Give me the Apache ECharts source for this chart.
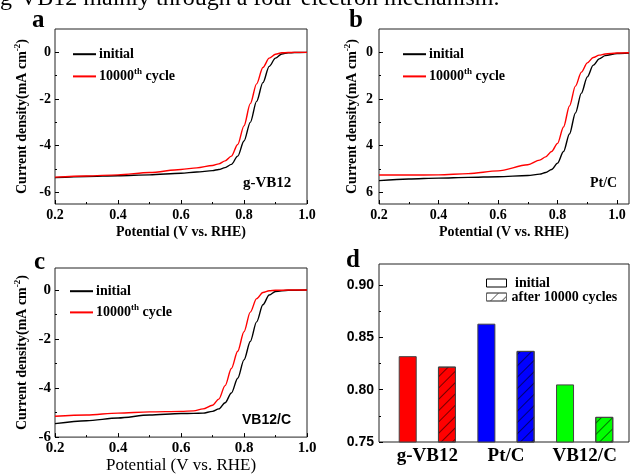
<!DOCTYPE html>
<html>
<head>
<meta charset="utf-8">
<script src="https://cdn.jsdelivr.net/npm/echarts@6/dist/echarts.min.js"></script>
<style>
html, body { margin: 0; padding: 0; background: #fff; }
#main { width: 630px; height: 475px; }
</style>
</head>
<body>
<div id="main"></div>
<script>
// panel a: g-VB12
const potA = [0.2, 0.3, 0.4, 0.5, 0.6, 0.65, 0.7, 0.72, 0.74, 0.76, 0.78, 0.8, 0.82, 0.84, 0.86, 0.88, 0.9, 0.92, 0.94, 0.96, 1.0];
const aInitial = [-5.37, -5.32, -5.29, -5.25, -5.18, -5.13, -5.07, -5.02, -4.94, -4.80, -4.45, -3.80, -3.00, -2.10, -1.30, -0.60, -0.25, -0.07, -0.02, -0.01, 0];
const aCycled = [-5.35, -5.30, -5.25, -5.15, -5.02, -4.95, -4.85, -4.78, -4.65, -4.45, -3.95, -3.15, -2.20, -1.35, -0.65, -0.25, -0.08, -0.02, -0.01, 0, 0];

// panel b: Pt/C (axis inverted)
const potB = [0.2, 0.3, 0.4, 0.5, 0.6, 0.7, 0.74, 0.76, 0.78, 0.8, 0.82, 0.84, 0.86, 0.88, 0.9, 0.92, 0.94, 0.96, 1.0, 1.04];
const bInitial = [5.50, 5.43, 5.39, 5.36, 5.33, 5.28, 5.22, 5.15, 5.02, 4.75, 4.25, 3.50, 2.60, 1.75, 1.05, 0.55, 0.28, 0.14, 0.05, 0.03];
const bCycled = [5.26, 5.26, 5.25, 5.20, 5.08, 4.82, 4.62, 4.48, 4.25, 3.90, 3.20, 2.30, 1.45, 0.85, 0.45, 0.22, 0.12, 0.07, 0.03, 0.02];

// panel c: VB12/C
const potC = [0.2, 0.3, 0.4, 0.5, 0.6, 0.64, 0.67, 0.7, 0.72, 0.74, 0.76, 0.78, 0.8, 0.82, 0.84, 0.86, 0.88, 0.9, 0.94, 1.0];
const cInitial = [-5.45, -5.33, -5.22, -5.10, -5.04, -5.03, -5.02, -4.95, -4.85, -4.60, -4.20, -3.60, -2.85, -2.10, -1.30, -0.60, -0.20, -0.06, -0.01, 0];
const cCycled = [-5.15, -5.10, -5.02, -4.97, -4.95, -4.93, -4.85, -4.70, -4.45, -3.90, -3.20, -2.50, -1.70, -0.90, -0.35, -0.10, -0.03, -0.01, 0, 0];

// panel d: half-wave potentials
const groups = ['g-VB12', 'Pt/C', 'VB12/C'];
const halfInitial = [0.832, 0.863, 0.805];
const halfCycled = [0.822, 0.837, 0.774];
const barColors = ['#ff0000', '#0000ff', '#00ff00'];

// tick labels
const potTicks = [0.2, 0.4, 0.6, 0.8, 1.0];
const aTicks = [-6, -4, -2, 0];
const aMinor = [-5, -3, -1];
const bTicks = [0, 2, 4, 6];
const bMinor = [1, 3, 5];
const dTicks = [0.75, 0.8, 0.85, 0.9];
const dMinor = [0.775, 0.825, 0.875];

const serif = 'Liberation Serif';
const sans = 'Liberation Sans';
const pairs = (xs, ys) => xs.map((x, i) => [x, ys[i]]);

const supRich = {
    t: { fontFamily: serif, fontWeight: 'bold', fontSize: 14, color: '#000', lineHeight: 18 },
    s: { fontFamily: serif, fontWeight: 'bold', fontSize: 9, color: '#000', lineHeight: 9, verticalAlign: 'top' }
};
const yName = '{t|Current density(mA cm}{s|-2}{t|)}';
const yNameStyle = { rich: supRich };

const potAxis = (grid, max, fontSize, nameStyle, nameGap) => ({
    type: 'value', gridIndex: grid, min: 0.2, max: max, interval: 0.2,
    name: 'Potential (V vs. RHE)', nameLocation: 'middle', nameGap: nameGap,
    nameTextStyle: nameStyle,
    axisLine: { show: false, onZero: false },
    axisTick: { inside: true, length: 4, customValues: potTicks, lineStyle: { color: '#000' } },
    minorTick: { show: true, splitNumber: 2, length: 2, lineStyle: { color: '#000' } },
    splitLine: { show: false },
    axisLabel: {
        customValues: potTicks, margin: 4, color: '#000',
        fontFamily: serif, fontWeight: 'bold', fontSize: fontSize,
        formatter: v => v.toFixed(1)
    }
});

const mainY = (grid, min, max, ticks, opts) => Object.assign({
    type: 'value', gridIndex: grid, min: min, max: max, position: 'left',
    axisLine: { show: false, onZero: false },
    splitLine: { show: false },
    axisTick: { inside: true, length: 4, customValues: ticks, lineStyle: { color: '#000' } },
    axisLabel: { customValues: ticks, margin: 4, color: '#000', fontFamily: serif, fontWeight: 'bold', fontSize: 14 }
}, opts);

const minorY = (grid, min, max, ticks, inverse) => ({
    type: 'value', gridIndex: grid, min: min, max: max, inverse: !!inverse, position: 'left',
    axisLine: { show: false, onZero: false }, splitLine: { show: false }, axisLabel: { show: false },
    axisTick: { inside: true, length: 2, customValues: ticks, lineStyle: { color: '#000' } }
});

const lineSeries = (name, color, xi, yi, data) => ({
    name: name, type: 'line', xAxisIndex: xi, yAxisIndex: yi,
    data: data, symbol: 'none', smooth: 0.3, smoothMonotone: 'x',
    lineStyle: { color: color, width: 1.4 }, itemStyle: { color: color },
    silent: true
});

const curveLegend = (left, top) => ({
    left: left, top: top, orient: 'vertical', itemWidth: 23, itemHeight: 18, itemGap: 5,
    selectedMode: false, data: ['initial', '10000th cycle'],
    itemStyle: { color: 'transparent', borderColor: 'transparent', borderWidth: 0 },
    formatter: n => n === 'initial' ? '{t|initial}' : '{t|10000}{s|th}{t| cycle}',
    textStyle: { rich: supRich, padding: [0, 0, 0, -2] }
});

const hatch = { symbol: 'rect', symbolSize: 1, dashArrayX: [1, 0], dashArrayY: [1, 7], rotation: -Math.PI / 4, color: 'rgba(0,0,0,0.55)' };
const dNames = { 'd-initial': ' initial', 'd-after': 'after 10000 cycles' };

const frame = { show: true, borderColor: '#222', borderWidth: 1, backgroundColor: 'transparent' };

const chart = echarts.init(document.getElementById('main'));
const option = {
    animation: false,
    backgroundColor: '#fff',
    grid: [
        Object.assign({ left: 55, top: 29, width: 252, height: 175 }, frame),
        Object.assign({ left: 379, top: 29, right: 1, height: 175 }, frame),
        Object.assign({ left: 55, top: 268, width: 252, height: 172 }, frame),
        Object.assign({ left: 379, top: 264, right: 1, height: 178 }, frame),
        { left: 388, top: 264, width: 236, height: 178 }
    ],
    xAxis: [
        potAxis(0, 1.0, 14, { fontFamily: serif, fontWeight: 'bold', fontSize: 14, color: '#000' }, 21),
        potAxis(1, 1.04, 14, { fontFamily: serif, fontWeight: 'bold', fontSize: 14, color: '#000' }, 21),
        potAxis(2, 1.0, 15, { fontFamily: serif, fontWeight: 'normal', fontSize: 17, color: '#000' }, 18),
        { type: 'value', gridIndex: 3, show: false, min: 0, max: 1 },
        {
            type: 'category', gridIndex: 4, data: groups,
            axisLine: { show: false, onZero: false }, axisTick: { show: false },
            axisLabel: { interval: 0, margin: 5, color: '#000', fontFamily: serif, fontWeight: 'bold', fontSize: 19 }
        }
    ],
    yAxis: [
        mainY(0, -6.5, 1, aTicks, { name: yName, nameLocation: 'middle', nameGap: 24, nameTextStyle: yNameStyle }),
        minorY(0, -6.5, 1, aMinor),
        mainY(1, -1, 6.5, bTicks, { inverse: true, name: yName, nameLocation: 'middle', nameGap: 18, nameTextStyle: yNameStyle,
            axisLabel: { customValues: bTicks, margin: 6, color: '#000', fontFamily: serif, fontWeight: 'bold', fontSize: 14 } }),
        minorY(1, -1, 6.5, bMinor, true),
        mainY(2, -6, 0.9, aTicks, { name: yName, nameLocation: 'middle', nameGap: 24, nameTextStyle: yNameStyle,
            axisLabel: { customValues: aTicks, margin: 4, color: '#000', fontFamily: serif, fontWeight: 'bold', fontSize: 15 } }),
        minorY(2, -6, 0.9, aMinor),
        mainY(3, 0.75, 0.92, dTicks, {
            axisLabel: { customValues: dTicks, margin: 5, color: '#000', fontFamily: sans, fontWeight: 'bold', fontSize: 14, formatter: v => v.toFixed(2) }
        }),
        minorY(3, 0.75, 0.92, dMinor),
        { type: 'value', gridIndex: 4, min: 0.75, max: 0.92, show: false }
    ],
    legend: [
        Object.assign(curveLegend(67, 42), { itemGap: 6 }),
        Object.assign(curveLegend(397, 42), { itemGap: 6 }),
        curveLegend(64, 279),
        {
            left: 481, top: 271, orient: 'vertical', itemWidth: 20, itemHeight: 8, itemGap: 0,
            selectedMode: false,
            data: [
                { name: 'd-initial', icon: 'rect', itemStyle: { color: '#fff', borderColor: '#000', borderWidth: 1 } },
                { name: 'd-after', icon: 'rect', itemStyle: { color: '#fff', borderColor: '#666', borderWidth: 1, decal: hatch } }
            ],
            formatter: n => dNames[n],
            textStyle: { fontFamily: serif, fontWeight: 'bold', fontSize: 14, color: '#000', lineHeight: 12 }
        }
    ],
    graphic: [
        { type: 'text', x: 0, y: 11, style: { text: 'g-VB12 mainly through a four-electron mechanism.', font: '24px "Liberation Serif"', fill: '#000', verticalAlign: 'bottom' } },
        { type: 'text', x: 32, y: 33, style: { text: 'a', font: 'bold 25px "Liberation Serif"', fill: '#000', verticalAlign: 'bottom' } },
        { type: 'text', x: 349, y: 33, style: { text: 'b', font: 'bold 25px "Liberation Serif"', fill: '#000', verticalAlign: 'bottom' } },
        { type: 'text', x: 34, y: 275, style: { text: 'c', font: 'bold 25px "Liberation Serif"', fill: '#000', verticalAlign: 'bottom' } },
        { type: 'text', x: 346, y: 273, style: { text: 'd', font: 'bold 25px "Liberation Serif"', fill: '#000', verticalAlign: 'bottom' } },
        { type: 'text', x: 243, y: 183, style: { text: 'g-VB12', font: 'bold 15px "Liberation Serif"', fill: '#000', verticalAlign: 'middle' } },
        { type: 'text', x: 590, y: 183, style: { text: 'Pt/C', font: 'bold 14px "Liberation Serif"', fill: '#000', verticalAlign: 'middle' } },
        { type: 'text', x: 242, y: 420, style: { text: 'VB12/C', font: 'bold 14px "Liberation Sans"', fill: '#000', verticalAlign: 'middle' } }
    ],
    series: [
        lineSeries('initial', '#000000', 0, 0, pairs(potA, aInitial)),
        lineSeries('10000th cycle', '#ff0000', 0, 0, pairs(potA, aCycled)),
        lineSeries('initial', '#000000', 1, 2, pairs(potB, bInitial)),
        lineSeries('10000th cycle', '#ff0000', 1, 2, pairs(potB, bCycled)),
        lineSeries('initial', '#000000', 2, 4, pairs(potC, cInitial)),
        lineSeries('10000th cycle', '#ff0000', 2, 4, pairs(potC, cCycled)),
        {
            name: 'd-initial', type: 'bar', xAxisIndex: 4, yAxisIndex: 8,
            barWidth: 18, barGap: '118%',
            itemStyle: { color: '#fff', borderColor: '#444', borderWidth: 1 },
            data: halfInitial.map((v, i) => ({ value: v, itemStyle: { color: barColors[i] } }))
        },
        {
            name: 'd-after', type: 'bar', xAxisIndex: 4, yAxisIndex: 8,
            barWidth: 18, barGap: '118%',
            itemStyle: { color: '#fff', borderColor: '#444', borderWidth: 1, decal: hatch },
            data: halfCycled.map((v, i) => ({ value: v, itemStyle: { color: barColors[i] } }))
        }
    ]
};
chart.setOption(option);
</script>
</body>
</html>
